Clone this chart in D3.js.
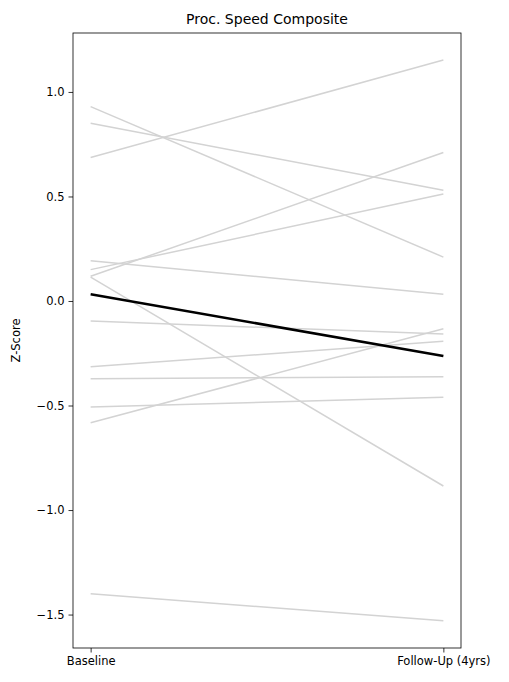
<!DOCTYPE html>
<html><head><meta charset="utf-8">
<script src="https://d3js.org/d3.v7.min.js"></script>
<style>body{margin:0;background:#fff}text{font-family:"DejaVu Sans",sans-serif}</style>
</head><body><svg id="c" width="509" height="682"></svg>
<script>
const timepoints = ["Baseline", "Follow-Up (4yrs)"];
const baseline = [0.93, 0.85, 0.686, 0.193, 0.15, 0.118, 0.114, -0.096, -0.314, -0.372, -0.507, -0.582, -1.40];
const followUp = [0.21, 0.53, 1.153, 0.032, 0.512, 0.71, -0.885, -0.158, -0.193, -0.362, -0.461, -0.133, -1.53];
const meanLine = [0.032, -0.263];
const yTicks = [1.0, 0.5, 0.0, -0.5, -1.0, -1.5];

const svg = d3.select("#c");
const L = 73, R = 461, T = 33, B = 648;
const x = d3.scaleLinear().domain([-0.05, 1.05]).range([L, R]);
const y = d3.scaleLinear().domain([-1.66, 1.282]).range([B, T]);
const line = d3.line().x((d, i) => x(i)).y(d => y(d));

baseline.forEach((b, i) => {
  svg.append("path").attr("d", line([b, followUp[i]])).attr("fill", "none")
    .attr("stroke", "#d3d3d3").attr("stroke-width", 1.5);
});
svg.append("path").attr("d", line(meanLine)).attr("fill", "none")
  .attr("stroke", "#000").attr("stroke-width", 2.5);

svg.append("rect").attr("x", L).attr("y", T).attr("width", R - L).attr("height", B - T)
  .attr("fill", "none").attr("stroke", "#000").attr("stroke-width", 0.8);

const ya = svg.append("g").attr("transform", `translate(${L},0)`)
  .call(d3.axisLeft(y).tickValues(yTicks).tickSize(4.5).tickPadding(4)
    .tickFormat(d => d3.format(".1f")(d).replace("-", "\u2212")));
const xa = svg.append("g").attr("transform", `translate(0,${B})`)
  .call(d3.axisBottom(x).tickValues([0, 1]).tickSize(4.5).tickPadding(4)
    .tickFormat(i => timepoints[i]));
[ya, xa].forEach(a => {
  a.select(".domain").remove();
  a.selectAll("text").attr("font-size", 11.5).attr("fill", "#000").style("font-family", "DejaVu Sans");
  a.selectAll("line").attr("stroke", "#000").attr("stroke-width", 0.8);
});

svg.append("text").attr("x", (L + R) / 2).attr("y", 24).attr("text-anchor", "middle")
  .attr("font-size", 14).text("Proc. Speed Composite");
svg.append("text").attr("transform", `translate(20,${(T + B) / 2}) rotate(-90)`)
  .attr("text-anchor", "middle").attr("font-size", 11.5).text("Z-Score");
</script></body></html>
